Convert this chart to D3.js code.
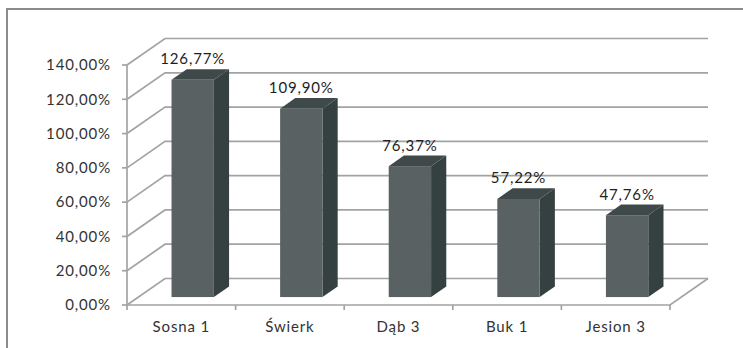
<!DOCTYPE html>
<html>
<head>
<meta charset="utf-8">
<script src="https://cdn.jsdelivr.net/npm/d3@7"></script>
<style>
  html, body { margin: 0; padding: 0; background: #fff; }
  svg { display: block; }
  text { font-family: Lato, "Open Sans", sans-serif; letter-spacing: 0.85px; }
</style>
</head>
<body>
<svg id="chart" width="743" height="348"></svg>
<script>
// Wood species and their percentage values
const categories = ["Sosna 1", "Świerk", "Dąb 3", "Buk 1", "Jesion 3"];
const values = [126.77, 109.90, 76.37, 57.22, 47.76];
const valueLabels = ["126,77%", "109,90%", "76,37%", "57,22%", "47,76%"];
const yTicks = [0, 20, 40, 60, 80, 100, 120, 140];
const yTickLabels = ["0,00%", "20,00%", "40,00%", "60,00%", "80,00%", "100,00%", "120,00%", "140,00%"];

const svg = d3.select("#chart");

// Front floor plane extents and 3D depth vector
const x0 = 127, x1 = 670, yBase = 305, yTop = 65;
const depthX = 38, depthY = -26.5;
const barD0 = 0.3, barD1 = 0.7;   // bar depth inside the plot box
const barFrac = 0.39;             // bar front width as share of a category band

const x = d3.scaleBand().domain(categories).range([x0, x1]).padding(0);
const y = d3.scaleLinear().domain([0, 140]).range([yBase, yTop]);

const gridColor = "#a0a4a4";

// Outer frame
svg.append("path")
  .attr("d", "M7,348 L7,9 L743,9")
  .attr("fill", "none").attr("stroke", "#878d8d").attr("stroke-width", 2);

const grid = svg.append("g").attr("fill", "none").attr("stroke", gridColor).attr("stroke-width", 1.7);

// Back-wall gridlines with the diagonal on the left wall
yTicks.forEach(t => {
  const yy = y(t);
  grid.append("path")
    .attr("d", `M${x0},${yy} L${x0 + depthX},${yy + depthY} L${x1 + depthX},${yy + depthY}`);
});

// Floor: front edge and right edge
grid.append("path").attr("d", `M${x0},${yBase} L${x1},${yBase} L${x1 + depthX},${yBase + depthY}`);

// Value axis (front left edge) and its ticks
grid.append("line").attr("x1", x0).attr("x2", x0).attr("y1", y(140)).attr("y2", yBase);
yTicks.forEach(t => {
  grid.append("line").attr("x1", x0 - 5).attr("x2", x0).attr("y1", y(t)).attr("y2", y(t));
});

// Category axis ticks
const catEdges = categories.map(c => x(c)).concat([x1]);
catEdges.forEach(e => {
  grid.append("line").attr("x1", e).attr("x2", e).attr("y1", yBase).attr("y2", yBase + 5);
});

// Value axis labels
svg.append("g").selectAll("text").data(yTicks).join("text")
  .attr("x", 111).attr("y", d => y(d))
  .attr("dy", "0.35em")
  .attr("text-anchor", "end")
  .attr("font-size", 15)
  .attr("fill", "#333")
  .text((d, i) => yTickLabels[i]);

// Category labels
svg.append("g").selectAll("text").data(categories).join("text")
  .attr("x", d => x(d) + x.bandwidth() / 2)
  .attr("y", 327)
  .attr("dy", "0.35em")
  .attr("text-anchor", "middle")
  .attr("font-size", 15)
  .attr("fill", "#333")
  .text(d => d);

// 3D bars
const bars = svg.append("g");
categories.forEach((c, i) => {
  const w = x.bandwidth() * barFrac;
  const fx = x(c) + (x.bandwidth() - w) / 2 + depthX * barD0;
  const fyB = yBase + depthY * barD0;
  const h = yBase - y(values[i]);
  const fyT = fyB - h;
  const ddx = depthX * (barD1 - barD0), ddy = depthY * (barD1 - barD0);

  // side face
  bars.append("path")
    .attr("d", `M${fx + w},${fyT} L${fx + w + ddx},${fyT + ddy} L${fx + w + ddx},${fyB + ddy} L${fx + w},${fyB} Z`)
    .attr("fill", "#354041");
  // top face
  bars.append("path")
    .attr("d", `M${fx},${fyT} L${fx + ddx},${fyT + ddy} L${fx + w + ddx},${fyT + ddy} L${fx + w},${fyT} Z`)
    .attr("fill", "#3f4949");
  // front face
  bars.append("rect")
    .attr("x", fx).attr("y", fyT).attr("width", w).attr("height", h)
    .attr("fill", "#5a6163");

  // value label
  bars.append("text")
    .attr("x", fx + w / 2)
    .attr("y", fyT + ddy - 5)
    .attr("text-anchor", "middle")
    .attr("font-size", 15)
    .attr("fill", "#1e1e1e")
    .text(valueLabels[i]);
});
</script>
</body>
</html>
